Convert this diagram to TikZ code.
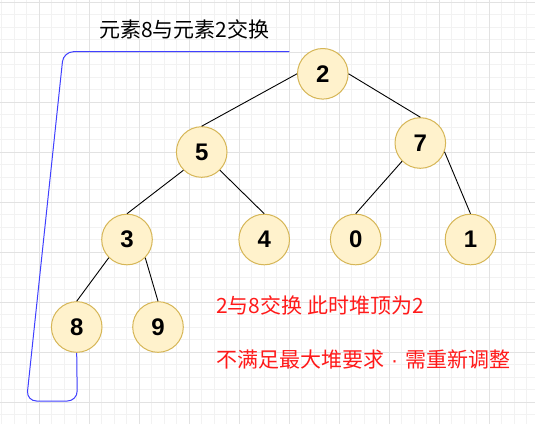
\documentclass[tikz,border=0pt]{standalone}
\usepackage{fontspec}
\newfontfamily\cjk{Noto Sans CJK SC}
\newfontfamily\nodefont{Liberation Sans}
\definecolor{nodefill}{HTML}{FFF2CC}
\definecolor{nodeline}{HTML}{D6B656}
\definecolor{gridminor}{HTML}{F2F2F2}
\definecolor{gridmajor}{HTML}{E2E2E2}
\definecolor{swapblue}{HTML}{4040FF}
\definecolor{notered}{HTML}{FF1A1A}
\tikzset{
  heapnode/.style={circle, draw=nodeline, fill=nodefill, line width=1pt,
    minimum size=50.6pt, inner sep=0pt,
    font=\nodefont\bfseries\fontsize{24}{28}\selectfont},
  edge/.style={draw=black, line width=0.9pt},
  swapline/.style={draw=swapblue, line width=1pt, rounded corners=10pt},
  caption/.style={anchor=west, inner sep=0pt, font=\cjk\fontsize{21}{24}\selectfont},
}
\begin{document}
\begin{tikzpicture}[x=1pt,y=-1pt]
\useasboundingbox (0,0) rectangle (535,424);
\fill[white] (0,0) rectangle (535,424);
% grid
\foreach \i in {0,...,42} {
  \draw[gridminor, line width=0.8pt] ({1.8+12.5*\i},0) -- ({1.8+12.5*\i},424);
}
\foreach \i in {0,...,33} {
  \draw[gridminor, line width=0.8pt] (0,{2.3+12.5*\i}) -- (535,{2.3+12.5*\i});
}
\foreach \i in {0,...,9} {
  \draw[gridmajor, line width=0.9pt] ({39.3+50*\i},0) -- ({39.3+50*\i},424);
}
\foreach \i in {0,...,8} {
  \draw[gridmajor, line width=0.9pt] (0,{2.3+50*\i}) -- (535,{2.3+50*\i});
}
% nodes
\node[heapnode] (n2) at (322.8,73.8) {2};
\node[heapnode] (n5) at (201.7,152) {5};
\node[heapnode] (n7) at (420.3,143) {7};
\node[heapnode] (n3) at (127,239.5) {3};
\node[heapnode] (n4) at (264.2,239.5) {4};
\node[heapnode] (n0) at (355.7,239.5) {0};
\node[heapnode] (n1) at (470.5,239.5) {1};
\node[heapnode] (n8) at (76.7,327) {8};
\node[heapnode] (n9) at (158,327) {9};
% edges
\draw[edge] (n2.west) -- (n5.north);
\draw[edge] (n2.east) -- (n7.north);
\draw[edge] (n5.225) -- (n3.north);
\draw[edge] (n5.315) -- (n4.north);
\draw[edge] (n7.225) -- (n0.north);
\draw[edge] (n7.-20) -- (n1.north);
\draw[edge] (n3.225) -- (n8.north);
\draw[edge] (n3.315) -- (n9.north);
% swap connector
\coordinate (bend) at (289.3,51.7);
\draw[swapline] (n8.south) -- (77.3,401) -- (26.5,401) -- (63.5,51.7) -- (bend);
% texts
\node[caption, text=black] (t1) at (99,29.5) {元素8与元素2交换};
\node[caption, text=notered] (t2) at (216,305) {2与8交换 此时堆顶为2};
\node[caption, text=notered] (t3) at (216,359) {不满足最大堆要求\makebox[1em]{\nodefont ·}需重新调整};
\end{tikzpicture}
\end{document}
